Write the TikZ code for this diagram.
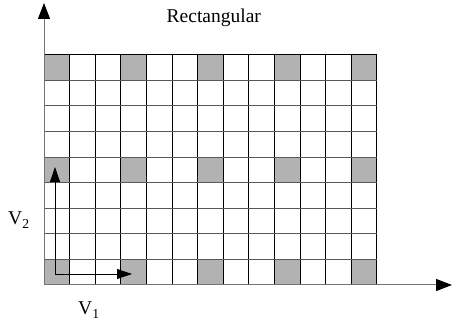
\documentclass[tikz,border=0pt]{standalone}
\usepackage{fontspec}
\setmainfont{Liberation Serif}
\usetikzlibrary{arrows.meta}

\tikzset{
  axis/.style={draw=black!55, line width=1pt, -{Triangle[length=16pt,width=12pt,color=black]}},
  basis/.style={draw=black, line width=0.8pt, -{Triangle[length=15pt,width=10pt]}},
  lbl/.style={font=\fontsize{19.5}{22}\selectfont, inner sep=0pt, anchor=base west}
}
\def\cell{25.6}

\begin{document}
\begin{tikzpicture}[x=1pt,y=1pt]
    \useasboundingbox (0,0) rectangle (454,328);
    \foreach \i in {0,3,...,12} \foreach \j in {0,4,8}
      \fill[black!30] (44+\i*\cell,43+\j*\cell) rectangle ++(\cell,\cell);
    \foreach \i in {0,...,13}
      \draw[line width=0.9pt] (44+\i*\cell,43) -- ++(0,9*\cell);
    \foreach \j in {1,...,8}
      \draw[black!65, line width=0.9pt] (44,43+\j*\cell) -- ++(13*\cell,0);
    \draw[line width=0.9pt] (44,43+9*\cell) -- ++(13*\cell,0);
    \coordinate (O) at (44,43); \coordinate (X) at (452,43);
    \coordinate (Y) at (44,325); \draw[axis] (O) -- (X);
    \draw[axis] (O) -- (Y);
    \coordinate (B) at (55,54); \coordinate (B1) at (132,54);
    \coordinate (B2) at (55,161); \draw[basis] (B) -- (B1);
    \draw[basis] (B) -- (B2);
    \node[lbl] (V1) at (78,13)
    {V\textsubscript{1}}; \node[lbl] (V2) at (8,103)
    {V\textsubscript{2}}; \node[lbl] (T) at (166.5,305.5)
    {Rectangular};
  \end{tikzpicture}
\end{document}
